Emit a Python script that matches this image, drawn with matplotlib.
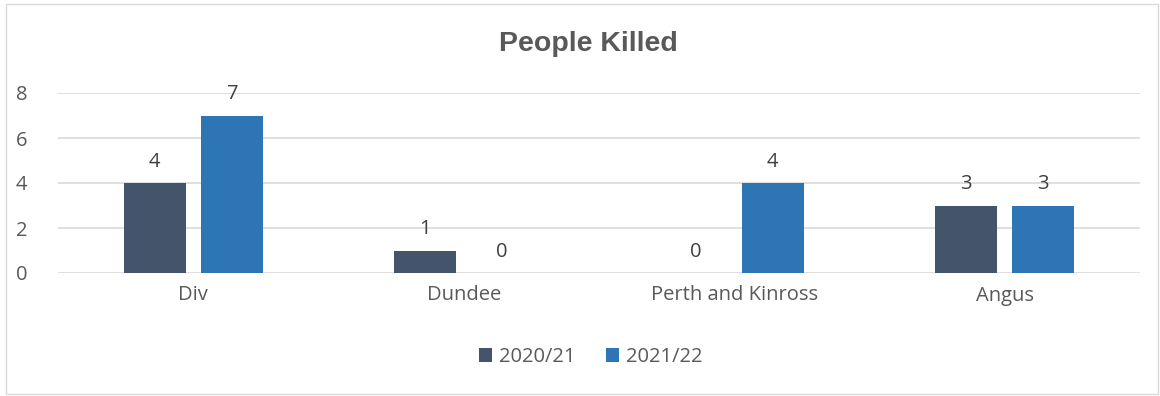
import matplotlib
matplotlib.use("Agg")
import matplotlib.pyplot as plt
import numpy as np
from matplotlib.patches import Rectangle

plt.rcParams['font.family'] = ['Open Sans', 'DejaVu Sans']

categories = ["Div", "Dundee", "Perth and Kinross", "Angus"]
series_names = ["2020/21", "2021/22"]
killed_2020 = [4, 1, 0, 3]
killed_2021 = [7, 0, 4, 3]
colors = ["#44546a", "#2e75b6"]

fig = plt.figure(figsize=(11.6, 3.96), dpi=100)
# light border round the chart area
fig.patches.append(Rectangle((6 / 1160, 2 / 396), 1152 / 1160, 390 / 396,
                             transform=fig.transFigure, fill=False,
                             edgecolor="#d9d9d9", linewidth=1))

ax = fig.add_axes([58 / 1160, 123 / 396, 1082 / 1160, 180 / 396])
x = np.arange(len(categories))
w = 0.229
off = 0.142
for vals, name, c, d in [(killed_2020, series_names[0], colors[0], -off),
                         (killed_2021, series_names[1], colors[1], off)]:
    bars = ax.bar(x + d, vals, width=w, color=c, label=name, zorder=3)
    for b, v in zip(bars, vals):
        ax.text(b.get_x() + b.get_width() / 2, v + 0.5, str(v),
                ha="center", va="bottom", fontsize=14.5, color="#404040")

ax.set_xlim(-0.5, len(categories) - 0.5)
ax.set_ylim(0, 8)
ax.set_yticks([0, 2, 4, 6, 8])
ax.set_xticks(x)
ax.set_xticklabels(categories)
ax.grid(axis="y", color="#d9d9d9", linewidth=1.2, zorder=0)
for s in ax.spines.values():
    s.set_visible(False)
ax.tick_params(length=0, labelsize=14.5, labelcolor="#595959")
ax.tick_params(axis="y", pad=22)
ax.tick_params(axis="x", pad=9)

fig.text(588 / 1160, 1 - 44 / 396, "People Killed", ha="center", va="center",
         fontsize=20.5, fontweight="bold", color="#595959",
         family=["Liberation Sans", "DejaVu Sans"])

leg = fig.legend(loc="center", bbox_to_anchor=(591 / 1160, 1 - 357 / 396),
                 ncol=2, frameon=False, fontsize=14.5, handlelength=0.65,
                 handleheight=0.65, handletextpad=0.35, columnspacing=1.5)
for t in leg.get_texts():
    t.set_color("#595959")

fig.savefig("out.png", dpi=100)
